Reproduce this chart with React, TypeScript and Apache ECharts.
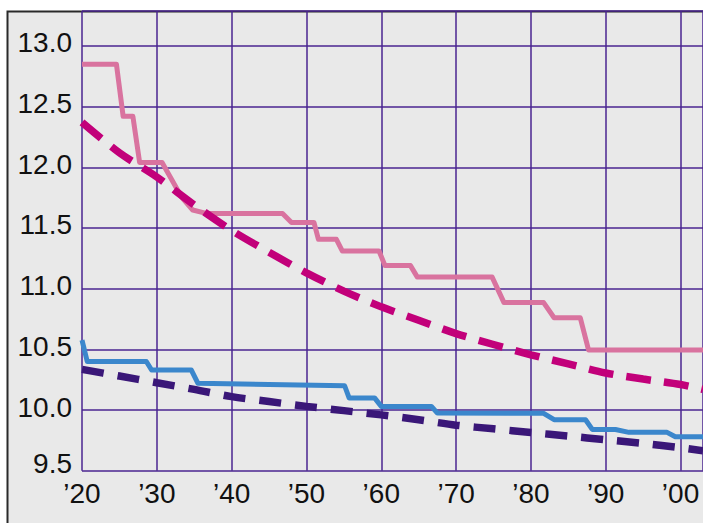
import React, { useEffect, useRef } from 'react';
import * as echarts from 'echarts';

// Tick values
const xTickYears = [1920, 1930, 1940, 1950, 1960, 1970, 1980, 1990, 2000];
const yTickValues = [9.5, 10.0, 10.5, 11.0, 11.5, 12.0, 12.5, 13.0];

// Pink solid step line
const pinkYears = [1920, 1924.6, 1925.5, 1926.8, 1927.7, 1930.7, 1933.3, 1934.8, 1936.6, 1946.8, 1948.0, 1951.0, 1951.6, 1954.0, 1954.8, 1959.7, 1960.5, 1963.9, 1964.8, 1974.8, 1976.4, 1981.7, 1983.1, 1986.6, 1987.7, 2003];
const pinkValues = [12.85, 12.85, 12.42, 12.42, 12.04, 12.04, 11.755, 11.648, 11.62, 11.62, 11.546, 11.546, 11.407, 11.407, 11.31, 11.31, 11.19, 11.19, 11.097, 11.097, 10.885, 10.885, 10.76, 10.76, 10.495, 10.495];

// Blue solid step line
const blueYears = [1920, 1920.7, 1928.6, 1929.3, 1934.6, 1935.5, 1955.1, 1955.7, 1959.1, 1960.0, 1966.7, 1967.5, 1981.7, 1983.1, 1987.3, 1988.2, 1991.3, 1993.1, 1998.2, 1999.3, 2003];
const blueValues = [10.576, 10.40, 10.40, 10.33, 10.33, 10.22, 10.20, 10.10, 10.10, 10.03, 10.03, 9.975, 9.973, 9.92, 9.92, 9.84, 9.84, 9.816, 9.816, 9.78, 9.78];

// Dashed trend lines
const trendYears = [1920, 1925, 1930, 1935, 1940, 1945, 1950, 1955, 1960, 1965, 1970, 1975, 1980, 1985, 1990, 1995, 2000, 2003];
const magentaValues = [12.37, 12.12, 11.92, 11.69, 11.48, 11.30, 11.13, 10.98, 10.85, 10.74, 10.63, 10.54, 10.455, 10.38, 10.305, 10.255, 10.21, 10.17];
const purpleValues = [10.335, 10.28, 10.225, 10.17, 10.11, 10.07, 10.03, 9.995, 9.96, 9.92, 9.875, 9.845, 9.815, 9.785, 9.755, 9.725, 9.69, 9.665];

const zip = (xs: number[], ys: number[]) => xs.map((x, i) => [x, ys[i]]);

const FONT = "'Liberation Sans', Arial, sans-serif";
const GRID_COLOR = '#4a2491';

export default function App() {
  const ref = useRef<HTMLDivElement>(null);

  useEffect(() => {
    const chart = echarts.init(ref.current!, null, { renderer: 'svg' });
    chart.setOption({
      animation: false,
      backgroundColor: '#ffffff',
      graphic: {
        elements: [
          {
            type: 'rect',
            z: -100,
            silent: true,
            shape: { x: 7.5, y: 11.5, width: 720, height: 540 },
            style: { fill: '#e9e9e9', stroke: '#2a2a2a', lineWidth: 2 },
          },
        ],
      },
      grid: { left: 82, top: 11, width: 622.5, height: 459.7, containLabel: false },
      xAxis: {
        type: 'value',
        min: 1920,
        max: 2003,
        interval: 10,
        axisLine: { show: false },
        axisTick: { show: false },
        splitLine: {
          show: true,
          lineStyle: { color: GRID_COLOR, width: 1.5 },
        },
        axisLabel: {
          showMaxLabel: false,
          margin: 9,
          color: '#111',
          fontFamily: FONT,
          fontSize: 28,
          formatter: (v: number) =>
            xTickYears.includes(v) ? '\u2019' + String(v % 100).padStart(2, '0') : '',
        },
      },
      yAxis: {
        type: 'value',
        min: 9.5,
        max: 13.288,
        interval: 0.5,
        axisLine: { show: false },
        axisTick: { show: false },
        splitLine: {
          show: true,
          lineStyle: { color: GRID_COLOR, width: 1.5 },
        },
        axisLabel: {
          showMaxLabel: false,
          margin: 10,
          color: '#111',
          fontFamily: FONT,
          fontSize: 28,
          padding: [0, 0, 6, 0],
          formatter: (v: number) => {
            if (Math.abs(v - 9.5) < 1e-6) return '{low|9.5}';
            return yTickValues.some((t) => Math.abs(t - v) < 1e-6) ? v.toFixed(1) : '';
          },
          rich: {
            low: {
              color: '#111',
              fontFamily: FONT,
              fontSize: 28,
              padding: [0, 0, 8, 0],
            },
          },
        },
      },
      series: [
        {
          name: 'Pink',
          type: 'line',
          data: zip(pinkYears, pinkValues),
          showSymbol: false,
          lineStyle: { color: '#d9739f', width: 5, join: 'round' },
          z: 2,
        },
        {
          name: 'Blue',
          type: 'line',
          data: zip(blueYears, blueValues),
          showSymbol: false,
          lineStyle: { color: '#3b87cc', width: 5, join: 'round' },
          z: 3,
        },
        {
          name: 'Magenta trend',
          type: 'line',
          data: zip(trendYears, magentaValues),
          showSymbol: false,
          smooth: 0.3,
          lineStyle: { color: '#c2007a', width: 7.5, type: [25, 13], cap: 'butt' },
          z: 4,
        },
        {
          name: 'Purple trend',
          type: 'line',
          data: zip(trendYears, purpleValues),
          showSymbol: false,
          smooth: 0.3,
          lineStyle: { color: '#3a1778', width: 7.5, type: [22, 14], cap: 'butt' },
          z: 5,
        },
      ],
    });
    return () => chart.dispose();
  }, []);

  return (
    <div
      ref={ref}
      style={{ position: 'fixed', left: 0, top: 0, width: 703, height: 523 }}
    />
  );
}
